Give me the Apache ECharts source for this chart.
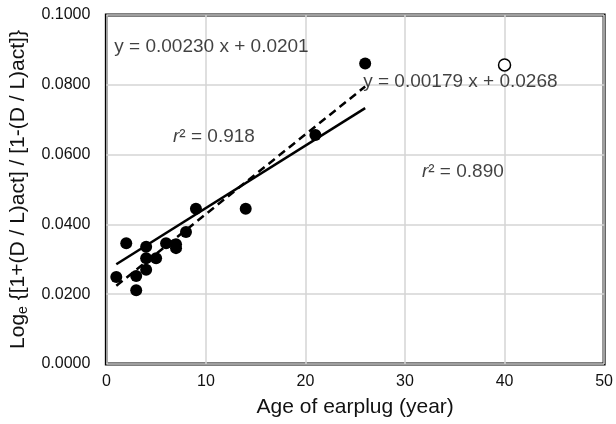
<!DOCTYPE html>
<html>
<head>
<meta charset="utf-8">
<script src="https://cdn.jsdelivr.net/npm/echarts@6/dist/echarts.min.js"></script>
<style>html,body{margin:0;padding:0;background:#fff}#c{width:616px;height:424px}</style>
</head>
<body>
<div id="c"></div>
<script>
// Data
var ageFilled = [1, 2, 3, 3, 4, 4, 4, 5, 6, 7, 7, 8, 9, 14, 21, 26];
var logFilled = [0.0249, 0.0346, 0.0252, 0.0211, 0.0336, 0.0303, 0.0270, 0.0303, 0.0346, 0.0343, 0.0332, 0.0378, 0.0445, 0.0445, 0.0656, 0.0861];
var ageOpen = [40];
var logOpen = [0.0857];
// Regression line end points (dashed: y = 0.00230x + 0.0201, solid: y = 0.00179x + 0.0268)
var dashAge = [1, 26];
var dashLog = [0.0224, 0.0795];
var solidAge = [1, 26];
var solidLog = [0.0286, 0.0733];
// Annotations
var noteX = [0.8, 25.8, 6.7, 31.7];
var noteY = [0.0909, 0.0809, 0.0651, 0.0551];
var noteText = ['{n|y = 0.00230 x + 0.0201}', '{n|y = 0.00179 x + 0.0268}', '{i|r}{n|² = 0.918}', '{i|r}{n|² = 0.890}'];
var xTicks = [0, 10, 20, 30, 40, 50];
var yTicks = [0, 0.02, 0.04, 0.06, 0.08, 0.1];

function zip(a, b) { return a.map(function (v, i) { return [v, b[i]]; }); }

var FONT = "'Liberation Sans', Arial, sans-serif";
var chart = echarts.init(document.getElementById('c'), null, { renderer: 'canvas' });
chart.setOption({
  animation: false,
  backgroundColor: '#fff',
  grid: { left: 105, right: 9, top: 15, bottom: 60, show: true, borderColor: '#000', borderWidth: 3, backgroundColor: 'transparent' },
  xAxis: {
    type: 'value', min: xTicks[0], max: xTicks[xTicks.length - 1], interval: 10,
    name: 'Age of earplug (year)', nameLocation: 'middle', nameGap: 33,
    nameTextStyle: { fontFamily: FONT, fontSize: 21, color: '#111' },
    axisLine: { show: false }, axisTick: { show: false },
    axisLabel: { fontFamily: FONT, fontSize: 16, color: '#111', margin: 10 },
    splitLine: { show: true, lineStyle: { color: '#d4d4d4', width: 1.5 } }
  },
  yAxis: {
    type: 'value', min: yTicks[0], max: yTicks[yTicks.length - 1], interval: 0.02,
    name: '{n|Log}{s|e}{n| {[1+(D / L)act] / [1-(D / L)act]}' + '}',
    nameLocation: 'middle', nameGap: 75, nameRotate: 90,
    nameTextStyle: {
      fontFamily: FONT, fontSize: 21, color: '#111',
      rich: {
        n: { fontFamily: FONT, fontSize: 21, color: '#111' },
        s: { fontFamily: FONT, fontSize: 14, color: '#111', verticalAlign: 'bottom', padding: [10, 0, 0, 0] }
      }
    },
    axisLine: { show: false }, axisTick: { show: false },
    axisLabel: { fontFamily: FONT, fontSize: 16, color: '#111', margin: 16, formatter: function (v) { return v.toFixed(4); } },
    splitLine: { show: true, lineStyle: { color: '#d4d4d4', width: 1.5 } }
  },
  series: [
    {
      type: 'line', data: zip(dashAge, dashLog), symbol: 'none', z: 3,
      lineStyle: { color: '#000', width: 2.5, type: [8, 5] }
    },
    {
      type: 'line', data: zip(solidAge, solidLog), symbol: 'none', z: 3,
      lineStyle: { color: '#000', width: 2.5, type: 'solid' }
    },
    {
      type: 'scatter', data: zip(ageFilled, logFilled), symbol: 'circle', symbolSize: 12, z: 5,
      itemStyle: { color: '#000', opacity: 1 }
    },
    {
      type: 'scatter', data: zip(ageOpen, logOpen), symbol: 'circle', symbolSize: 12, z: 5,
      itemStyle: { color: '#fff', borderColor: '#000', borderWidth: 1.5, opacity: 1 }
    },
    {
      type: 'scatter', symbolSize: 0, z: 6, silent: true,
      itemStyle: { color: 'rgba(0,0,0,0)' },
      data: noteX.map(function (x, i) { return [x, noteY[i], noteText[i]]; }),
      label: {
        show: true, position: 'right', distance: 0, align: 'left', verticalAlign: 'middle',
        fontFamily: FONT, fontSize: 19, color: '#111',
        formatter: function (p) { return p.value[2]; },
        rich: {
          n: { fontFamily: FONT, fontSize: 19, color: '#111' },
          i: { fontFamily: FONT, fontSize: 19, color: '#111', fontStyle: 'italic' }
        }
      }
    }
  ]
});
</script>
</body>
</html>
